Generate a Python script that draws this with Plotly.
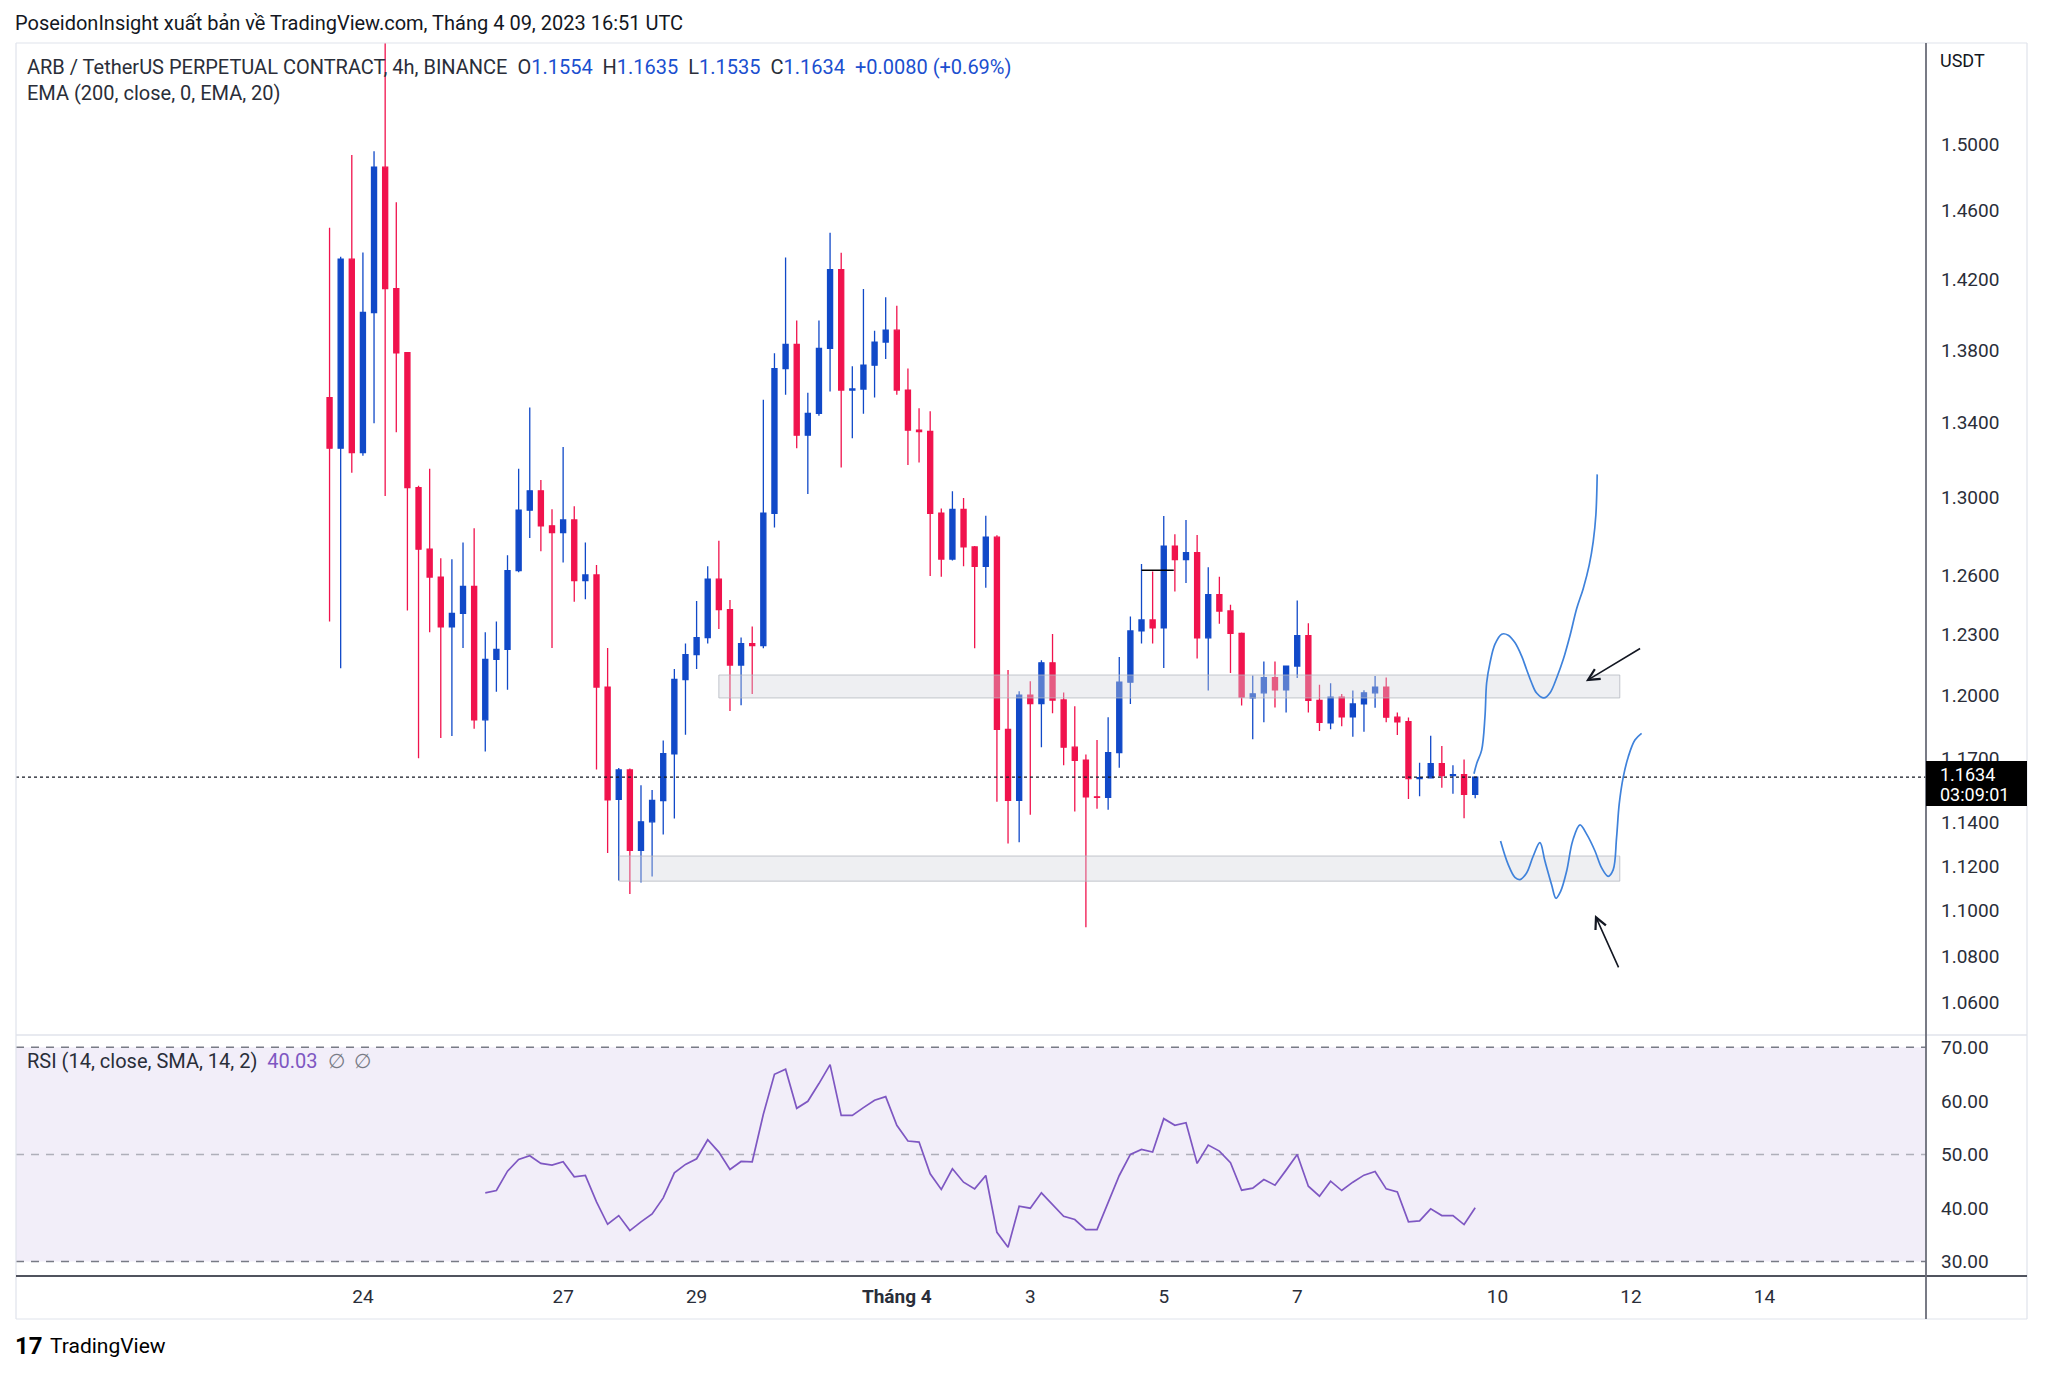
import numpy as np
import pandas as pd
import plotly.graph_objects as go

W, H = 2048, 1373

# ARB / USDT perpetual, 4h candles
start_time = "2023-03-23 12:00"
opens = [1.3565, 1.3290, 1.4346, 1.3267, 1.4040, 1.4890, 1.4176, 1.3813, 1.3080, 1.2758,
         1.2615, 1.2363, 1.2431, 1.2567, 1.1907, 1.2202, 1.2251, 1.2648, 1.2961, 1.3063,
         1.2879, 1.2844, 1.2910, 1.2597, 1.2626, 1.2066, 1.1530, 1.1668, 1.1295, 1.1426,
         1.1525, 1.1745, 1.2103, 1.2225, 1.2310, 1.2604, 1.2450, 1.2174, 1.2280, 1.2270,
         1.2945, 1.3725, 1.3860, 1.3360, 1.3478, 1.3838, 1.4285, 1.3606, 1.3612, 1.3744,
         1.3873, 1.3940, 1.3606, 1.3387, 1.3380, 1.2945, 1.2707, 1.2965, 1.2770, 1.2670,
         1.2820, 1.1861, 1.1526, 1.2027, 1.1985, 1.2185, 1.2003, 1.1776, 1.1714, 1.1542,
         1.1540, 1.1750, 1.2090, 1.2343, 1.2398, 1.2359, 1.2774, 1.2705, 1.2740, 1.2309,
         1.2525, 1.2443, 1.2331, 1.2013, 1.2038, 1.2112, 1.2053, 1.2169, 1.2320, 1.2001,
         1.1893, 1.2017, 1.1922, 1.1984, 1.2038, 1.2066, 1.1920, 1.1898, 1.1627, 1.1631,
         1.1698, 1.1642, 1.1646, 1.1554]
highs = [1.4530, 1.4360, 1.4963, 1.4385, 1.4986, 1.6200, 1.4680, 1.3813, 1.3090, 1.3180,
         1.2711, 1.2706, 1.2793, 1.2867, 1.2336, 1.2390, 1.2727, 1.3180, 1.3510, 1.3120,
         1.2966, 1.3296, 1.2981, 1.2793, 1.2677, 1.2258, 1.1677, 1.1675, 1.1596, 1.1574,
         1.1808, 1.2155, 1.2280, 1.2494, 1.2670, 1.2802, 1.2499, 1.2310, 1.2365, 1.3553,
         1.3810, 1.4355, 1.3995, 1.3592, 1.3995, 1.4500, 1.4384, 1.3738, 1.4174, 1.3936,
         1.4127, 1.4078, 1.3725, 1.3507, 1.3490, 1.2970, 1.3060, 1.3025, 1.2775, 1.2932,
         1.2830, 1.2150, 1.2046, 1.2095, 1.2198, 1.2328, 1.2040, 1.1973, 1.1741, 1.1810,
         1.1920, 1.2214, 1.2415, 1.2682, 1.2644, 1.2930, 1.2835, 1.2909, 1.2831, 1.2665,
         1.2617, 1.2474, 1.2335, 1.2123, 1.2192, 1.2192, 1.2169, 1.2496, 1.2381, 1.2077,
         1.2085, 1.2032, 1.2049, 1.2050, 1.2120, 1.2113, 1.1943, 1.1918, 1.1702, 1.1831,
         1.1782, 1.1690, 1.1718, 1.1635]
lows = [1.2390, 1.2158, 1.3159, 1.3250, 1.3425, 1.3035, 1.3376, 1.2445, 1.1723, 1.2336,
        1.1820, 1.1830, 1.2258, 1.1864, 1.1756, 1.2043, 1.2053, 1.2640, 1.2816, 1.2747,
        1.2258, 1.2689, 1.2490, 1.2502, 1.1670, 1.1283, 1.1158, 1.1097, 1.1149, 1.1176,
        1.1368, 1.1441, 1.1835, 1.2155, 1.2280, 1.2353, 1.1950, 1.1978, 1.2032, 1.2257,
        1.2870, 1.3580, 1.3290, 1.3046, 1.3466, 1.3598, 1.3186, 1.3343, 1.3476, 1.3565,
        1.3778, 1.3580, 1.3200, 1.3213, 1.2620, 1.2616, 1.2700, 1.2670, 1.2257, 1.2560,
        1.1519, 1.1326, 1.1332, 1.1459, 1.1776, 1.1939, 1.1690, 1.1474, 1.0949, 1.1487,
        1.1482, 1.1679, 1.1984, 1.2280, 1.2280, 1.2159, 1.2542, 1.2585, 1.2206, 1.2049,
        1.2379, 1.2135, 1.1976, 1.1814, 1.1895, 1.1967, 1.1943, 1.2110, 1.1943, 1.1854,
        1.1862, 1.1876, 1.1826, 1.1850, 1.1966, 1.1895, 1.1834, 1.1532, 1.1545, 1.1628,
        1.1585, 1.1556, 1.1443, 1.1535]
closes = [1.3290, 1.4346, 1.3267, 1.4040, 1.4890, 1.4176, 1.3813, 1.3080, 1.2758, 1.2615,
          1.2363, 1.2431, 1.2567, 1.1907, 1.2202, 1.2251, 1.2648, 1.2961, 1.3063, 1.2879,
          1.2844, 1.2910, 1.2597, 1.2626, 1.2066, 1.1528, 1.1668, 1.1295, 1.1426, 1.1525,
          1.1745, 1.2103, 1.2225, 1.2310, 1.2604, 1.2450, 1.2174, 1.2280, 1.2270, 1.2945,
          1.3725, 1.3860, 1.3360, 1.3478, 1.3838, 1.4285, 1.3606, 1.3612, 1.3744, 1.3873,
          1.3940, 1.3606, 1.3387, 1.3380, 1.2945, 1.2707, 1.2965, 1.2770, 1.2670, 1.2820,
          1.1861, 1.1526, 1.2027, 1.1985, 1.2185, 1.2003, 1.1776, 1.1714, 1.1542, 1.1540,
          1.1750, 1.2090, 1.2343, 1.2398, 1.2359, 1.2774, 1.2705, 1.2740, 1.2309, 1.2525,
          1.2443, 1.2331, 1.2017, 1.2033, 1.2112, 1.2053, 1.2169, 1.2320, 1.2001, 1.1895,
          1.2017, 1.1922, 1.1984, 1.2038, 1.2066, 1.1920, 1.1898, 1.1627, 1.1632, 1.1698,
          1.1642, 1.1646, 1.1554, 1.1634]

# RSI(14), starts at candle 14
rsi_start = 14
rsi_values = [42.83, 43.26, 46.88, 49.06, 49.75, 48.32, 48.00, 48.63, 45.82, 46.07,
              41.14, 36.96, 38.58, 35.78, 37.40, 38.90, 41.89, 46.57, 48.13, 49.19,
              52.74, 50.44, 47.19, 48.69, 48.63, 57.49, 64.97, 65.91, 58.61, 59.92,
              63.23, 66.78, 57.30, 57.30, 58.73, 60.11, 60.79, 55.43, 52.50, 52.31,
              46.38, 43.45, 47.32, 44.82, 43.57, 46.07, 35.46, 32.66, 40.33, 39.96,
              42.83, 40.64, 38.46, 37.84, 35.96, 35.96, 40.95, 46.07, 50.00, 50.94,
              50.44, 56.68, 55.43, 55.93, 48.32, 51.75, 50.62, 48.44, 43.32, 43.70,
              45.32, 44.26, 47.07, 50.00, 44.07, 42.20, 45.01, 43.26, 44.82, 46.13,
              46.82, 43.57, 43.01, 37.40, 37.59, 39.83, 38.58, 38.58, 36.90, 40.03]

# drawings (candle-index position, price)
zone_upper = dict(start=35.0, end=116.0, low=1.2013, high=1.2125)
zone_lower = dict(start=26.05, end=116.0, low=1.1155, high=1.1269)
hline_level = 1.265
hline_span = [73.0, 75.9]

upper_path_idx = [102.89, 103.13, 103.58, 103.88, 104.03, 104.33, 104.78, 105.38, 105.97, 106.57,
                  107.17, 107.62, 108.07, 108.52, 109.18, 109.72, 110.38, 110.92, 111.52, 112.12,
                  112.71, 113.25, 113.61, 113.85, 113.97]
upper_path_price = [1.1650, 1.1698, 1.1762, 1.1923, 1.2087, 1.2185, 1.2277, 1.2327, 1.2322, 1.2285,
                    1.2219, 1.2152, 1.2087, 1.2037, 1.2013, 1.2037, 1.2119, 1.2202, 1.2319, 1.2454,
                    1.2556, 1.2676, 1.2797, 1.2937, 1.3150]
lower_path_idx = [105.28, 105.97, 106.57, 107.02, 107.62, 108.22, 108.82, 109.27, 109.87, 110.26,
                  110.68, 111.22, 111.76, 112.42, 113.02, 113.77, 114.37, 114.96, 115.41, 115.71,
                  115.95, 116.31, 116.76, 117.36, 117.96]
lower_path_price = [1.1338, 1.1230, 1.1172, 1.1162, 1.1192, 1.1269, 1.1330, 1.1246, 1.1139, 1.1078,
                    1.1109, 1.1200, 1.1338, 1.1412, 1.1369, 1.1292, 1.1215, 1.1177, 1.1207, 1.1353,
                    1.1509, 1.1634, 1.1730, 1.1810, 1.1842]
arrows = [  # (tail idx, tail price, head idx, head price)
    (117.96, 1.2260, 112.95, 1.2095),
    (115.95, 1.0766, 113.77, 1.1003),
]

price_ticks = [1.06, 1.08, 1.10, 1.12, 1.14, 1.17, 1.20, 1.23, 1.26, 1.30, 1.34, 1.38, 1.42, 1.46, 1.50]
rsi_ticks = [30, 40, 50, 60, 70]
date_ticks = ["2023-03-24", "2023-03-27", "2023-03-29", "2023-04-01", "2023-04-03",
              "2023-04-05", "2023-04-07", "2023-04-10", "2023-04-12", "2023-04-14"]
date_labels = ["24", "27", "29", "<b>Tháng 4</b>", "3", "5", "7", "10", "12", "14"]

times = pd.date_range(start_time, periods=len(closes), freq="4h")
t0 = times[0]


def at(idx):
    return (t0 + pd.Timedelta(hours=4 * idx)).strftime("%Y-%m-%d %H:%M:%S")


def px(x):
    return x / W


def py(y):
    return 1 - y / H


BLUE = "#1149C8"
RED = "#F0134D"
TXT = "#131722"
DRAW = "#3F82DB"
FONT = "Roboto"

x_left, x_right = -28.19, 143.53

fig = go.Figure()

for z in (zone_upper, zone_lower):
    fig.add_trace(go.Scatter(
        x=[at(z["start"]), at(z["end"]), at(z["end"]), at(z["start"]), at(z["start"])],
        y=[z["low"], z["low"], z["high"], z["high"], z["low"]],
        mode="lines", fill="toself", fillcolor="rgba(209,212,220,0.38)",
        line=dict(color="rgba(178,181,190,0.75)", width=1), hoverinfo="skip"))

fig.add_trace(go.Scatter(x=[at(x_left), at(x_right)], y=[closes[-1], closes[-1]], mode="lines",
                         line=dict(color=TXT, width=1.2, dash="dot"), hoverinfo="skip"))

fig.add_trace(go.Candlestick(
    x=times, open=opens, high=highs, low=lows, close=closes,
    increasing=dict(line=dict(color=BLUE, width=1.3), fillcolor=BLUE),
    decreasing=dict(line=dict(color=RED, width=1.3), fillcolor=RED),
    whiskerwidth=0, hoverinfo="skip"))

fig.add_trace(go.Scatter(x=[at(hline_span[0]), at(hline_span[1])], y=[hline_level, hline_level],
                         mode="lines", line=dict(color="#000000", width=1.6), hoverinfo="skip"))

for xs, ys in ((upper_path_idx, upper_path_price), (lower_path_idx, lower_path_price)):
    fig.add_trace(go.Scatter(x=[at(v) for v in xs], y=ys, mode="lines",
                             line=dict(color=DRAW, width=1.7, shape="spline", smoothing=1.0),
                             hoverinfo="skip"))

fig.add_trace(go.Scatter(x=times[rsi_start:], y=rsi_values, yaxis="y2", mode="lines",
                         line=dict(color="#7E57C2", width=1.7), hoverinfo="skip"))

for tx, ty, hx, hy in arrows:
    fig.add_annotation(x=at(hx), y=np.log10(hy), ax=at(tx), ay=np.log10(ty),
                       xref="x", yref="y", axref="x", ayref="y", text="", showarrow=True,
                       arrowhead=5, arrowsize=1.4, arrowwidth=1.6, arrowcolor=TXT, standoff=0)

# RSI band and levels
fig.add_shape(type="rect", xref="paper", yref="y2", x0=px(16), x1=px(1926), y0=30, y1=70,
              fillcolor="rgba(126,87,194,0.1)", line_width=0, layer="below")
for lvl, col in ((70, "#787B86"), (50, "rgba(120,123,134,0.55)"), (30, "#787B86")):
    fig.add_shape(type="line", xref="paper", yref="y2", x0=px(16), x1=px(1926), y0=lvl, y1=lvl,
                  line=dict(color=col, width=1.5, dash="8px,7px"), layer="below")

# frame
frame = [
    (16, 43, 2027, 43, "#E0E3EB", 1.2),
    (16, 43, 16, 1319, "#E0E3EB", 1.2),
    (2027, 43, 2027, 1319, "#E0E3EB", 1.2),
    (16, 1319, 2027, 1319, "#E0E3EB", 1.2),
    (16, 1035, 2027, 1035, "#E0E3EB", 1.5),
    (16, 1276, 2027, 1276, "#50535E", 2.2),
    (1926, 43, 1926, 1319, "#6A6D78", 1.8),
]
for x0, y0, x1, y1, c, w in frame:
    fig.add_shape(type="line", xref="paper", yref="paper", x0=px(x0), y0=py(y0), x1=px(x1), y1=py(y1),
                  line=dict(color=c, width=w), layer="above")

# last price label
fig.add_shape(type="rect", xref="paper", yref="paper", x0=px(1926), x1=px(2027), y0=py(806), y1=py(761),
              fillcolor="#000000", line_width=0, layer="above")


def label(x, y, text, size=19, color=TXT, anchor="left"):
    fig.add_annotation(x=px(x), y=py(y), xref="paper", yref="paper", text=text, showarrow=False,
                       xanchor=anchor, yanchor="middle", font=dict(family=FONT, size=size, color=color))


label(1938, 774, f"{closes[-1]:.4f}", 18, "#FFFFFF")
label(1938, 794, "03:09:01", 18, "#FFFFFF")
label(1938, 61, "USDT", 18)

label(13, 23, "PoseidonInsight xuất bản về TradingView.com, Tháng 4 09, 2023 16:51 UTC", 20)

VAL = "#1B4FCF"
chg = closes[-1] - closes[-2]
pct = chg / closes[-2] * 100
sp = "\u00a0\u00a0"
legend1 = ("ARB / TetherUS PERPETUAL CONTRACT, 4h, BINANCE" + sp +
           f"O<span style='color:{VAL}'>{opens[-1]:.4f}</span>" + sp +
           f"H<span style='color:{VAL}'>{highs[-1]:.4f}</span>" + sp +
           f"L<span style='color:{VAL}'>{lows[-1]:.4f}</span>" + sp +
           f"C<span style='color:{VAL}'>{closes[-1]:.4f}</span>" + sp +
           f"<span style='color:{VAL}'>{chg:+.4f} ({pct:+.2f}%)</span>")
label(25, 67, legend1, 20, "#2A2E39")
label(25, 93, "EMA (200, close, 0, EMA, 20)", 20, "#2A2E39")
label(25, 1061, f"RSI (14, close, SMA, 14, 2)\u00a0\u00a0<span style='color:#7E57C2'>{rsi_values[-1]:.2f}</span>"
      "\u00a0\u00a0<span style='color:#787B86'>∅\u00a0\u00a0∅</span>", 20, "#2A2E39")

label(13, 1346, "<b>17</b>", 24, "#000000")
label(48, 1346, "TradingView", 21, "#000000")

# price pane: small vertical offset of the scale to line the candles up with the picture
shift = np.exp(5.2 / 2475)

fig.update_layout(
    width=W, height=H, margin=dict(l=0, r=0, t=0, b=0),
    paper_bgcolor="white", plot_bgcolor="white", showlegend=False,
    font=dict(family=FONT, size=19, color=TXT), boxgap=0.35,
    xaxis=dict(domain=[px(16), px(1926)], anchor="y2", type="date",
               range=[at(x_left), at(x_right)], rangeslider=dict(visible=False),
               showgrid=False, zeroline=False, showline=False, ticks="",
               tickvals=date_ticks, ticktext=date_labels, ticklabelstandoff=7,
               tickfont=dict(family=FONT, size=19, color="#2A2E39")),
    yaxis=dict(domain=[py(1035), py(43)], anchor="x", side="right", type="log",
               range=[np.log10(1.046 * shift), np.log10(1.5624 * shift)], showgrid=False,
               zeroline=False, showline=False, ticks="", tickvals=price_ticks,
               ticktext=[f"{v:.4f}" for v in price_ticks], ticklabelstandoff=14,
               ticklabelshift=-5,
               tickfont=dict(family=FONT, size=19, color="#2A2E39")),
    yaxis2=dict(domain=[py(1276), py(1035)], anchor="x", side="right",
                range=[27.3, 72.3], showgrid=False, zeroline=False, showline=False, ticks="",
                tickvals=rsi_ticks, ticktext=[f"{v:.2f}" for v in rsi_ticks],
                ticklabelstandoff=14, tickfont=dict(family=FONT, size=19, color="#2A2E39")),
)

fig.write_html("out.html", config={"displayModeBar": False},
               post_script="document.body.style.margin='0px';")
